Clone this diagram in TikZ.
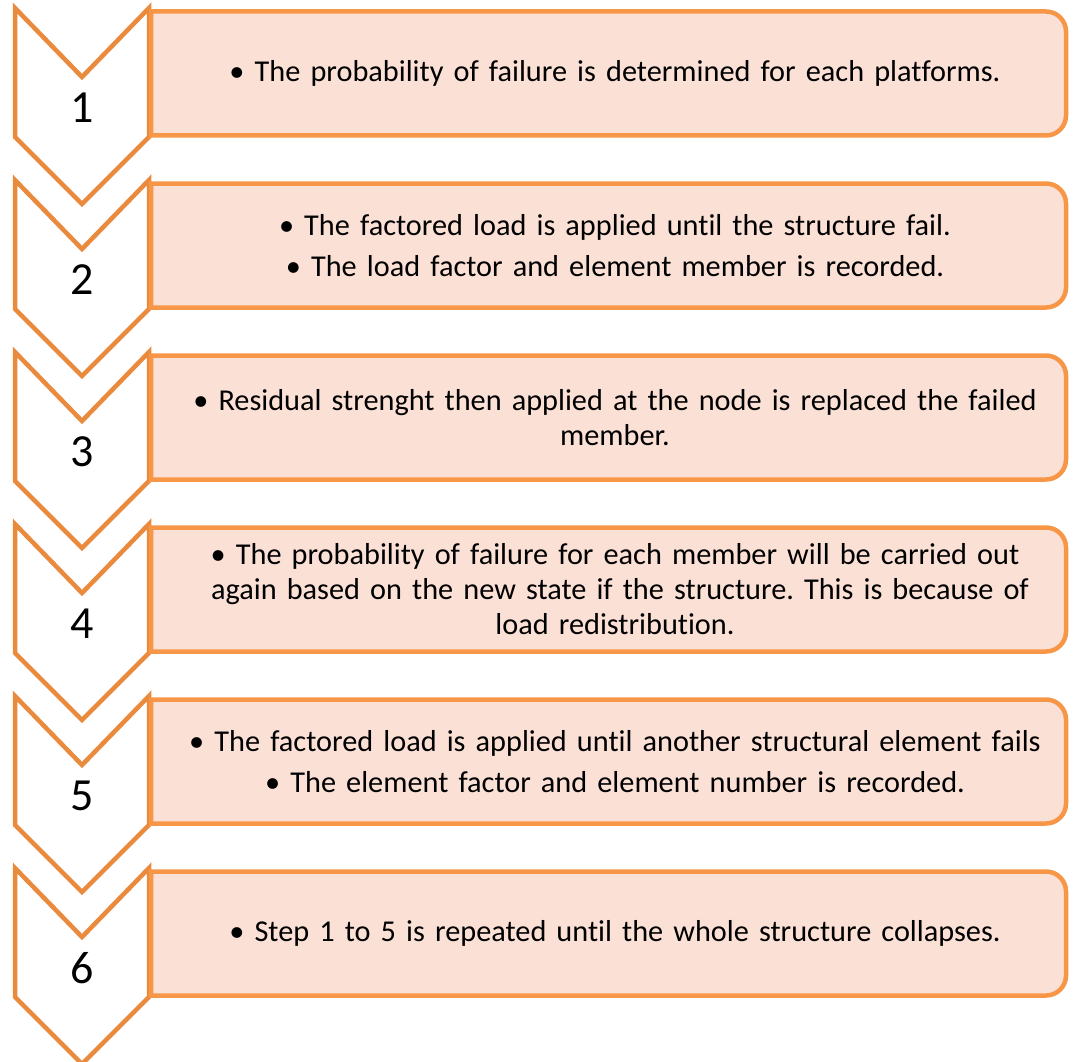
\documentclass[tikz,border=0pt]{standalone}
\usepackage{fontspec}
\setmainfont{Carlito}[Ligatures=NoCommon]
\frenchspacing
\usetikzlibrary{positioning}
\definecolor{chevline}{HTML}{E98A3D}
\definecolor{boxline}{HTML}{F79646}
\definecolor{boxfill}{HTML}{FBE0D6}

\tikzset{
  chevron/.style={draw=chevline, fill=white, line width=4.5pt, line join=miter},
  stepbox/.style={draw=boxline, fill=boxfill, line width=4.5pt},
  numlabel/.style={inner sep=0pt, font=\fontsize{46}{50}\selectfont},
  steptext/.style={inner sep=0pt, text width=900pt, align=center,
    font=\fontsize{30.3}{35}\selectfont}
}

\begin{document}
\begin{tikzpicture}[x=1pt,y=-1pt]
\useasboundingbox (0,0) rectangle (1076,1062);
% step 1
\draw[chevron] (15,8) -- (82,77) -- (149,8) -- (149,137) -- (82,204) -- (15,137) -- cycle;
\draw[stepbox] (151,11.5) -- (1046,11.5) arc[start angle=90, end angle=0, radius=20pt] -- (1066,115.5) arc[start angle=0, end angle=-90, radius=20pt] -- (151,135.5) -- cycle;
\node[numlabel] (n1) at (82,108) {1};
\node[steptext] (t1) at (615,73.5) {• The probability of failure is determined for each platforms.};
% step 2
\draw[chevron] (15,180) -- (82,249) -- (149,180) -- (149,309) -- (82,376) -- (15,309) -- cycle;
\draw[stepbox] (151,183.5) -- (1046,183.5) arc[start angle=90, end angle=0, radius=20pt] -- (1066,287.5) arc[start angle=0, end angle=-90, radius=20pt] -- (151,307.5) -- cycle;
\node[numlabel] (n2) at (82,280) {2};
\node[steptext] (t2) at (615,245.5) {• The factored load is applied until the structure fail.\\[6pt]
  • The load factor and element member is recorded.};
% step 3
\draw[chevron] (15,352) -- (82,421) -- (149,352) -- (149,481) -- (82,548) -- (15,481) -- cycle;
\draw[stepbox] (151,355.5) -- (1046,355.5) arc[start angle=90, end angle=0, radius=20pt] -- (1066,459.5) arc[start angle=0, end angle=-90, radius=20pt] -- (151,479.5) -- cycle;
\node[numlabel] (n3) at (82,452) {3};
\node[steptext] (t3) at (615,417.5) {• Residual strenght then applied at the node is replaced the failed\\ member.};
% step 4
\draw[chevron] (15,524) -- (82,593) -- (149,524) -- (149,653) -- (82,720) -- (15,653) -- cycle;
\draw[stepbox] (151,527.5) -- (1046,527.5) arc[start angle=90, end angle=0, radius=20pt] -- (1066,631.5) arc[start angle=0, end angle=-90, radius=20pt] -- (151,651.5) -- cycle;
\node[numlabel] (n4) at (82,624) {4};
\node[steptext] (t4) at (615,589.5) {• The probability of failure for each member will be carried out\\
  \hspace*{10pt}again based on the new state if the structure. This is because of\\ load redistribution.};
% step 5
\draw[chevron] (15,696) -- (82,765) -- (149,696) -- (149,825) -- (82,892) -- (15,825) -- cycle;
\draw[stepbox] (151,699.5) -- (1046,699.5) arc[start angle=90, end angle=0, radius=20pt] -- (1066,803.5) arc[start angle=0, end angle=-90, radius=20pt] -- (151,823.5) -- cycle;
\node[numlabel] (n5) at (82,796) {5};
\node[steptext] (t5) at (615,761.5) {• The factored load is applied until another structural element fails\\[6pt]
  • The element factor and element number is recorded.};
% step 6
\draw[chevron] (15,868) -- (82,937) -- (149,868) -- (149,997) -- (82,1064) -- (15,997) -- cycle;
\draw[stepbox] (151,871.5) -- (1046,871.5) arc[start angle=90, end angle=0, radius=20pt] -- (1066,975.5) arc[start angle=0, end angle=-90, radius=20pt] -- (151,995.5) -- cycle;
\node[numlabel] (n6) at (82,968) {6};
\node[steptext] (t6) at (615,933.5) {• Step 1 to 5 is repeated until the whole structure collapses.};
\end{tikzpicture}
\end{document}
